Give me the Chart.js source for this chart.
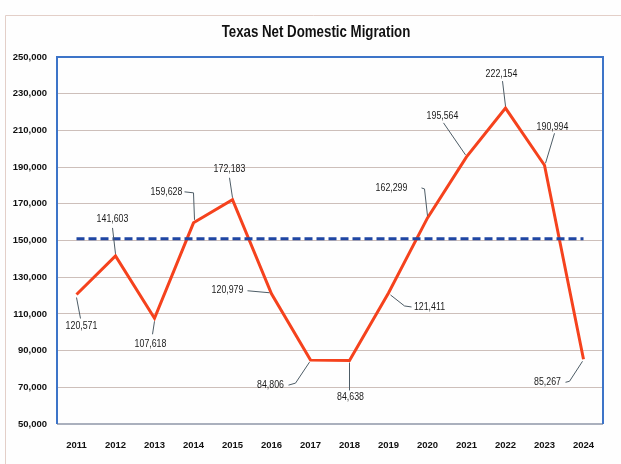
<!DOCTYPE html>
<html>
<head>
<meta charset="utf-8">
<script src="https://cdn.jsdelivr.net/npm/chart.js@4"></script>
<style>
  body { margin: 0; background: #fff; }
  #wrap { width: 621px; height: 464px; position: relative; }
</style>
</head>
<body>
<div id="wrap"><canvas id="chart" width="621" height="464"></canvas></div>
<script>
let years = ["2011", "2012", "2013", "2014", "2015", "2016", "2017", "2018", "2019", "2020", "2021", "2022", "2023", "2024"];
let migration = [120571, 141603, 107618, 159628, 172183, 120979, 84806, 84638, 121411, 162299, 195564, 222154, 190994, 85267];
let avgLine = [151000, 151000, 151000, 151000, 151000, 151000, 151000, 151000, 151000, 151000, 151000, 151000, 151000, 151000];
let yMin = 50000;
let yMax = 250000;
let yStep = 20000;

// where each value label sits relative to its point, and its leader line
let labelOffsets = [
  [5, 31], [-3, -37], [-4, 26], [-27, -31], [-3, -31], [-44, -4], [-40, 25],
  [1, 37], [41, 14], [-36, -30], [-24, -41], [-4, -34], [8, -38], [-36, 23]
];
let leaders = [
  [[4, 24], [0, 3]],
  [[-3, -28], [0, -2]],
  [[-2, 16], [0, 3]],
  [[-9, -31], [0, -30], [1, -3]],
  [[-3, -22], [0, -2]],
  [[-24, -3], [-2, -1]],
  [[-22, 25], [-15, 23], [-1, 2]],
  [[0, 30], [0, 2]],
  [[23, 14], [16, 13], [2, 2]],
  [[-6, -30], [-3, -29], [0, -2]],
  [[-23, -34], [-1, -2]],
  [[-3, -27], [0, -2]],
  [[10, -32], [1, -2]],
  [[-18, 23], [-14, 22], [-1, 2]]
];

const sans = "'Liberation Sans', Arial, sans-serif";

// draw text squeezed sideways, the original uses a narrow face
function narrowText(ctx, text, x, y, squeeze) {
  ctx.save();
  ctx.translate(x, y);
  ctx.scale(squeeze, 1);
  ctx.fillText(text, 0, 0);
  ctx.restore();
}

const decor = {
  id: "decor",
  beforeDraw(chart) {
    let ctx = chart.ctx;
    ctx.save();
    ctx.fillStyle = "#fefefe";
    ctx.fillRect(0, 0, chart.width, chart.height);
    ctx.strokeStyle = "#e3cfc8";
    ctx.lineWidth = 1;
    ctx.beginPath();
    ctx.moveTo(5.5, chart.height);
    ctx.lineTo(5.5, 15.5);
    ctx.lineTo(chart.width, 15.5);
    ctx.stroke();
    ctx.fillStyle = "#111";
    ctx.font = "bold 16px " + sans;
    ctx.textAlign = "center";
    ctx.textBaseline = "middle";
    narrowText(ctx, "Texas Net Domestic Migration", 316, 33, 0.83);
    ctx.restore();
  },
  beforeDatasetsDraw(chart) {
    let a = chart.chartArea;
    let ctx = chart.ctx;
    ctx.save();
    ctx.lineWidth = 2;
    ctx.strokeStyle = "#aab0bd";
    ctx.beginPath();
    ctx.moveTo(a.left, a.bottom);
    ctx.lineTo(a.right, a.bottom);
    ctx.stroke();
    ctx.strokeStyle = "#3d74c8";
    ctx.beginPath();
    ctx.moveTo(a.left, a.bottom);
    ctx.lineTo(a.left, a.top);
    ctx.lineTo(a.right, a.top);
    ctx.lineTo(a.right, a.bottom);
    ctx.stroke();
    ctx.restore();
  },
  afterDatasetsDraw(chart) {
    let ctx = chart.ctx;
    let meta = chart.getDatasetMeta(1);
    ctx.save();
    ctx.font = "11px " + sans;
    ctx.fillStyle = "#1a1a1a";
    ctx.textAlign = "center";
    ctx.textBaseline = "middle";
    ctx.strokeStyle = "#4d5c66";
    ctx.lineWidth = 1;
    meta.data.forEach((pt, i) => {
      let path = leaders[i];
      ctx.beginPath();
      path.forEach((p, j) => {
        if (j === 0) ctx.moveTo(pt.x + p[0], pt.y + p[1]);
        else ctx.lineTo(pt.x + p[0], pt.y + p[1]);
      });
      ctx.stroke();
      let off = labelOffsets[i];
      narrowText(ctx, migration[i].toLocaleString("en-US"), pt.x + off[0], pt.y + off[1], 0.8);
    });
    ctx.restore();
  }
};

new Chart(document.getElementById("chart"), {
  type: "line",
  data: {
    labels: years,
    datasets: [
      {
        data: avgLine,
        borderColor: "#1f46a3",
        borderWidth: 3,
        borderDash: [8, 4],
        pointRadius: 0,
        tension: 0
      },
      {
        data: migration,
        borderColor: "#f5421d",
        borderWidth: 3,
        pointRadius: 0,
        tension: 0
      }
    ]
  },
  options: {
    responsive: false,
    animation: false,
    layout: { padding: { top: 57, right: 18, left: 0, bottom: 0 } },
    plugins: {
      legend: { display: false },
      title: { display: false },
      tooltip: { enabled: false }
    },
    scales: {
      x: {
        offset: true,
        grid: { display: false },
        border: { display: false },
        ticks: {
          color: "#111",
          padding: 8,
          maxRotation: 0,
          font: { family: sans, size: 9.5, weight: "bold" }
        },
        afterFit(scale) { scale.height = 40; }
      },
      y: {
        min: yMin,
        max: yMax,
        grid: { color: "#cdbfba", lineWidth: 1, drawTicks: false },
        border: { display: false },
        ticks: {
          stepSize: yStep,
          color: "#111",
          padding: 10,
          font: { family: sans, size: 9.5, weight: "bold" },
          callback: v => v.toLocaleString("en-US")
        },
        afterFit(scale) { scale.width = 57; }
      }
    }
  },
  plugins: [decor]
});
</script>
</body>
</html>
